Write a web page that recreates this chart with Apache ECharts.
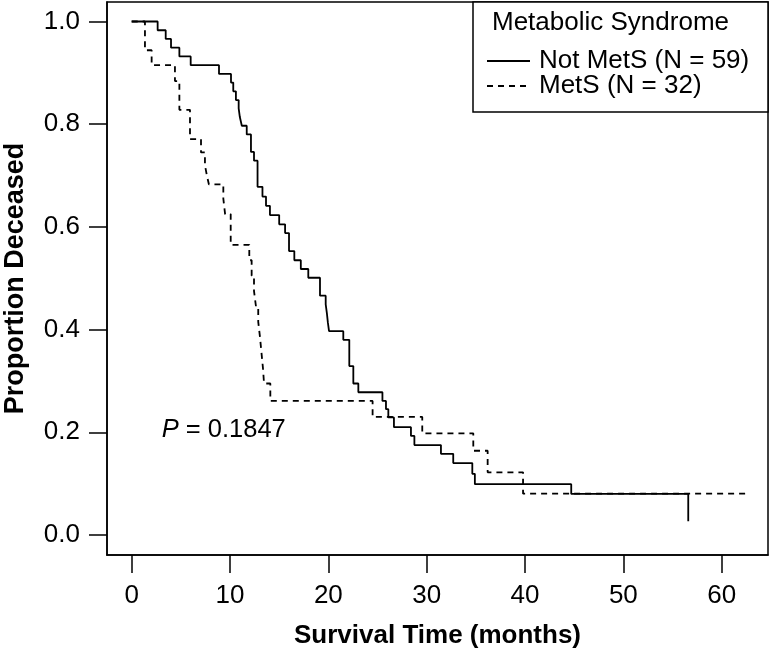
<!DOCTYPE html>
<html>
<head>
<meta charset="utf-8">
<script src="https://cdn.jsdelivr.net/npm/echarts@6/dist/echarts.min.js"></script>
<style>
html,body{margin:0;padding:0;background:#fff;}
#chart{width:769px;height:649px;}
</style>
</head>
<body>
<div id="chart"></div>
<script>
// Not MetS (N = 59): time (months) and proportion after each step
const notMetSTime = [0, 2.64, 3.46, 4.0, 4.85, 6.0, 8.88, 10.1, 10.33, 10.6, 10.88, 11.0, 11.2, 11.7, 12.13, 12.44, 12.8, 13.3, 13.66, 14.06, 15.0, 15.6, 16.0, 16.54, 17.2, 17.96, 19.15, 19.73, 19.85, 19.95, 20.07, 21.52, 22.13, 22.54, 23.05, 25.5, 25.86, 26.1, 26.67, 28.4, 28.75, 31.45, 32.7, 34.64, 34.9, 44.7, 56.6];
const notMetSSurv = [1.0, 0.983, 0.966, 0.949, 0.932, 0.915, 0.898, 0.881, 0.864, 0.847, 0.831, 0.814, 0.797, 0.780, 0.746, 0.729, 0.678, 0.659, 0.641, 0.623, 0.605, 0.588, 0.553, 0.535, 0.518, 0.501, 0.466, 0.449, 0.432, 0.414, 0.397, 0.380, 0.329, 0.295, 0.278, 0.261, 0.245, 0.229, 0.210, 0.193, 0.175, 0.158, 0.140, 0.119, 0.099, 0.080, 0.0267];
// MetS (N = 32)
const metSTime = [0, 1.35, 2.03, 4.4, 4.85, 5.93, 7.05, 7.45, 7.65, 7.85, 9.32, 9.5, 10.07, 11.96, 12.2, 12.44, 12.64, 12.87, 13.05, 13.2, 13.35, 13.46, 14.1, 24.5, 29.55, 34.74, 36.2, 39.8, 62.4];
const metSSurv = [1.0, 0.944, 0.915, 0.884, 0.828, 0.771, 0.745, 0.72, 0.70, 0.683, 0.655, 0.625, 0.565, 0.535, 0.505, 0.475, 0.445, 0.415, 0.385, 0.355, 0.325, 0.295, 0.261, 0.230, 0.198, 0.164, 0.122, 0.0805, 0.0805];

const xTicks = [0, 10, 20, 30, 40, 50, 60];
const yTicks = [0.0, 0.2, 0.4, 0.6, 0.8, 1.0];
const seriesNames = ['Not MetS (N = 59)', 'MetS (N = 32)'];
const legendTitle = 'Metabolic Syndrome';
const pValueText = '0.1847';

const zip = (a, b) => a.map((v, i) => [v, b[i]]);
const FONT = '"Liberation Sans", Arial, Helvetica, sans-serif';

const chart = echarts.init(document.getElementById('chart'), null, {renderer: 'canvas'});
chart.setOption({
  backgroundColor: '#ffffff',
  animation: false,
  textStyle: {fontFamily: FONT, color: '#000'},
  grid: {left: 107, top: 2, width: 661, height: 553, outerBoundsMode: 'none', containLabel: false,
    show: true, borderColor: '#000', borderWidth: 1.5, backgroundColor: 'transparent'},
  xAxis: {
    type: 'value', min: -2.51, max: 64.71,
    name: 'Survival Time (months)', nameLocation: 'middle', nameGap: 68,
    nameTextStyle: {fontFamily: FONT, fontWeight: 'bold', fontSize: 26, color: '#000'},
    axisLine: {show: true, onZero: false, lineStyle: {color: '#000', width: 1.5}},
    axisTick: {show: true, inside: false, length: 18, customValues: xTicks, lineStyle: {color: '#000', width: 1.5}},
    axisLabel: {show: true, margin: 28, customValues: xTicks, fontSize: 26, color: '#000', fontFamily: FONT},
    splitLine: {show: false}
  },
  yAxis: {
    type: 'value', min: -0.039, max: 1.038,
    name: 'Proportion Deceased', nameLocation: 'middle', nameGap: 78, nameRotate: 90,
    nameTextStyle: {fontFamily: FONT, fontWeight: 'bold', fontSize: 27, color: '#000'},
    axisLine: {show: true, onZero: false, lineStyle: {color: '#000', width: 1.5}},
    axisTick: {show: true, inside: false, length: 18, customValues: yTicks, lineStyle: {color: '#000', width: 1.5}},
    axisLabel: {show: true, margin: 27, customValues: yTicks, fontSize: 26, color: '#000', fontFamily: FONT,
      formatter: v => Number(v).toFixed(1)},
    splitLine: {show: false}
  },
  legend: {
    orient: 'vertical', left: 486, top: 48, padding: 0, itemWidth: 43, itemHeight: 14, itemGap: -1,
    data: seriesNames,
    itemStyle: {opacity: 0},
    textStyle: {fontSize: 26, lineHeight: 24, color: '#000', fontFamily: FONT, padding: [0, 0, 0, 4]},
    z: 10
  },
  graphic: [
    {type: 'rect', z: 5, shape: {x: 473, y: 2, width: 295, height: 110}, style: {fill: '#fff', stroke: '#000', lineWidth: 1.5}},
    {type: 'text', z: 6, x: 492, y: 22.5, style: {text: legendTitle, font: '26px ' + FONT, fill: '#000', textVerticalAlign: 'middle'}},
    {type: 'text', z: 6, x: 161.7, y: 430, style: {
      text: '{i|P} = ' + pValueText, fill: '#000', textVerticalAlign: 'middle',
      font: '25.5px ' + FONT,
      rich: {i: {fontStyle: 'italic', fontSize: 25.5, fontFamily: FONT}}
    }}
  ],
  series: [
    {name: seriesNames[0], type: 'line', step: 'end', symbol: 'none', data: zip(notMetSTime, notMetSSurv),
      color: '#000', lineStyle: {color: '#000', width: 1.8, type: 'solid'}, z: 3},
    {name: seriesNames[1], type: 'line', step: 'end', symbol: 'none', data: zip(metSTime, metSSurv),
      color: '#000', lineStyle: {color: '#000', width: 1.8, type: [6, 5]}, z: 3}
  ]
});
</script>
</body>
</html>
